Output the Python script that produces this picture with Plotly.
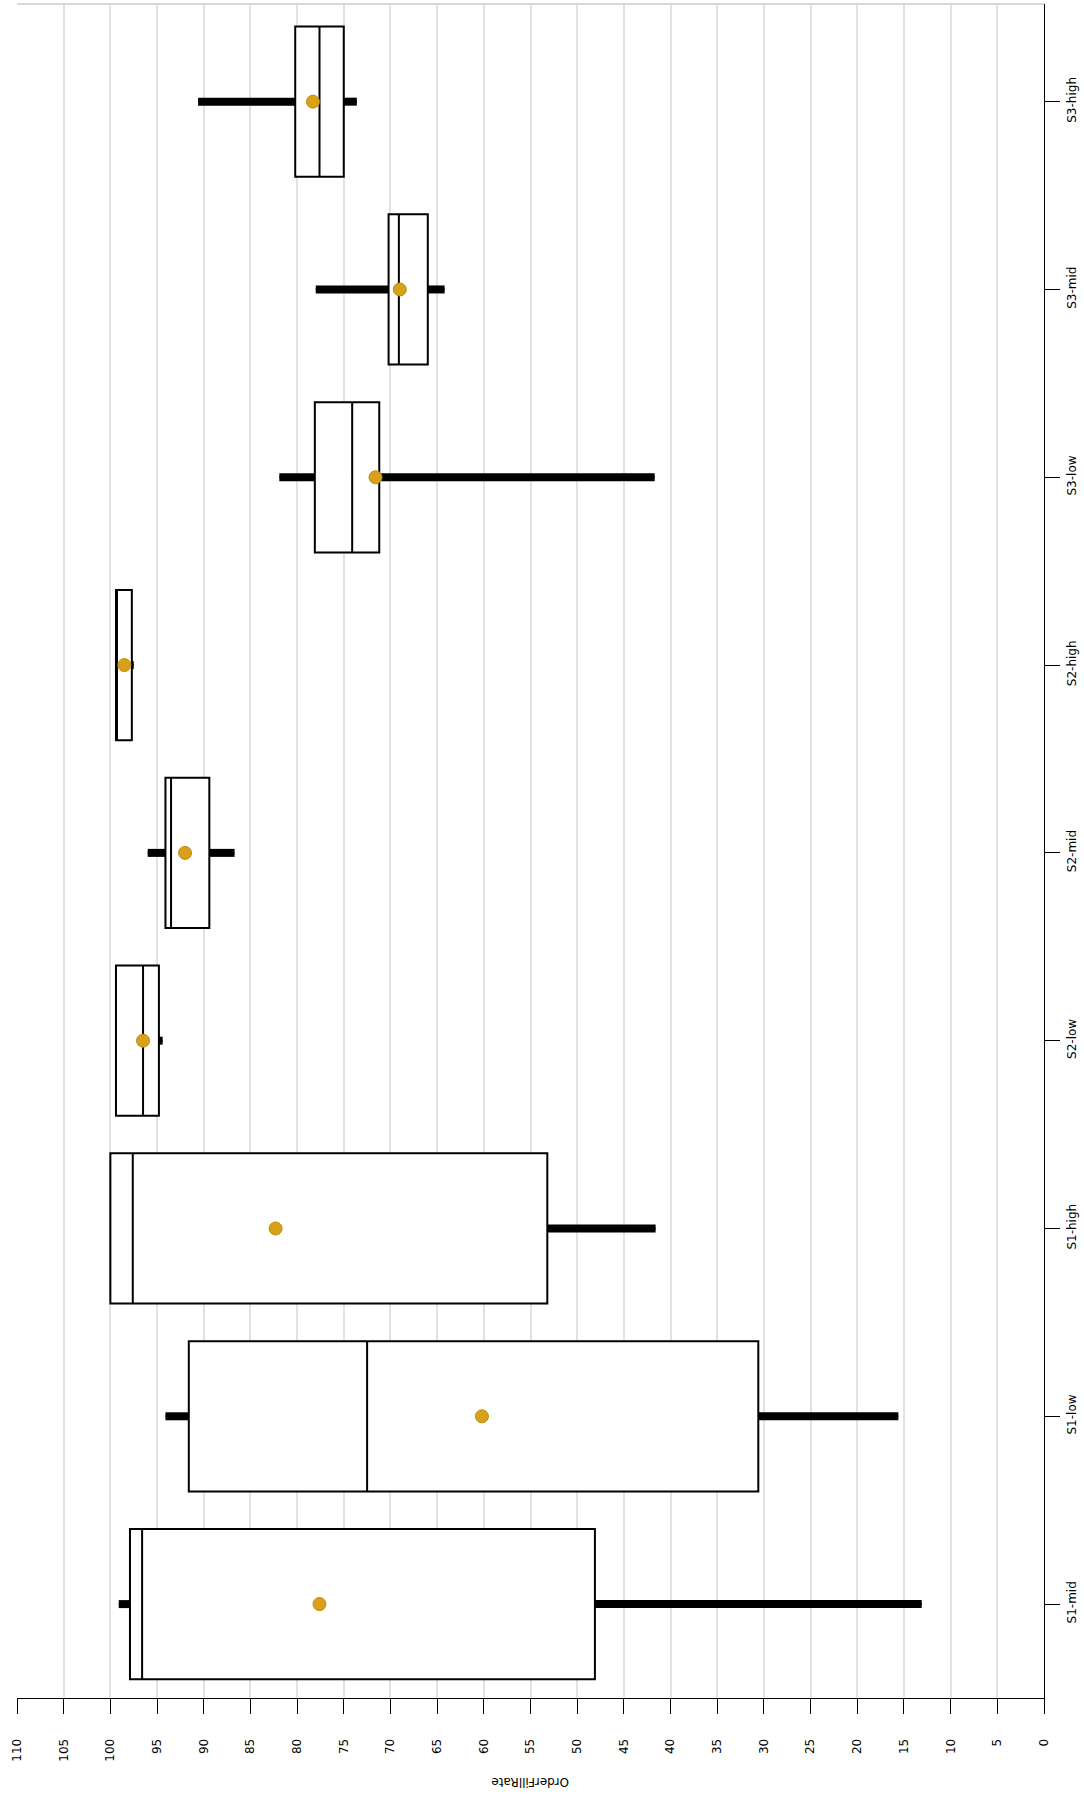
import plotly.graph_objects as go

categories = ["S1-mid", "S1-low", "S1-high", "S2-low", "S2-mid", "S2-high", "S3-low", "S3-mid", "S3-high"]
q1 =          [48.1, 30.6, 53.2, 94.8, 89.4, 97.7, 71.2, 66.0, 75.0]
median =      [96.6, 72.5, 97.6, 96.5, 93.5, 99.4, 74.1, 69.1, 77.6]
q3 =          [97.9, 91.6, 100.0, 99.4, 94.1, 99.4, 78.1, 70.2, 80.2]
lowerfence =  [13.1, 15.6, 41.6, 94.4, 86.7, 97.5, 41.7, 64.2, 73.6]
upperfence =  [99.1, 94.1, 100.0, 99.4, 96.0, 99.4, 81.9, 78.0, 90.6]
means =       [77.6, 60.2, 82.3, 96.5, 92.0, 98.5, 71.6, 69.0, 78.3]

x_ticks = list(range(0, 115, 5))

FONT = "DejaVu Sans"

fig = go.Figure()

fig.add_trace(go.Box(
    y=categories,
    q1=q1, median=median, q3=q3,
    lowerfence=lowerfence, upperfence=upperfence,
    orientation="h",
    width=0.8,
    fillcolor="white",
    line=dict(color="black", width=2),
    whiskerwidth=0,
    boxpoints=False,
    showlegend=False,
    hoverinfo="skip",
))

wx, wy = [], []
for c, lf, a, b, uf in zip(categories, lowerfence, q1, q3, upperfence):
    wx += [lf, a, None, b, uf, None]
    wy += [c, c, None, c, c, None]

fig.add_trace(go.Scatter(
    x=wx, y=wy, mode="lines",
    line=dict(color="black", width=8),
    showlegend=False, hoverinfo="skip",
))

fig.add_trace(go.Scatter(
    x=means, y=categories, mode="markers",
    marker=dict(color="#D9A01A", size=13, line=dict(color="#C08A10", width=1)),
    showlegend=False,
))

fig.update_layout(
    width=1084, height=1794,
    margin=dict(l=17, r=40, t=4, b=96),
    paper_bgcolor="white", plot_bgcolor="white",
    font=dict(family=FONT, size=12, color="black"),
    xaxis=dict(
        range=[110, 0],
        tickvals=x_ticks,
        ticktext=[str(v) for v in x_ticks],
        tickangle=-90,
        ticks="outside", ticklen=15, tickcolor="black", tickwidth=1,
        showline=True, linecolor="black", linewidth=1,
        showgrid=True, gridcolor="#e2e2e2", gridwidth=2,
        zeroline=False,
        automargin=False,
        ticklabelstandoff=20,
        tickfont=dict(family=FONT, size=12, color="black"),
    ),
    yaxis=dict(
        type="category",
        categoryorder="array", categoryarray=categories,
        range=[-0.5, 8.52],
        side="right",
        tickangle=-90,
        ticks="outside", ticklen=15, tickcolor="black", tickwidth=1,
        showline=True, linecolor="black", linewidth=1,
        showgrid=False, zeroline=False,
        automargin=False,
        ticklabelstandoff=2,
        tickfont=dict(family=FONT, size=12, color="black"),
    ),
    shapes=[dict(type="line", xref="paper", yref="paper", x0=0, x1=1, y0=1, y1=1,
                 line=dict(color="#d8d8d8", width=2))],
    annotations=[dict(text="OrderFillRate", xref="paper", yref="paper",
                      x=0.5, y=-0.05, xanchor="center", yanchor="middle",
                      textangle=180, showarrow=False,
                      font=dict(family=FONT, size=12, color="black"))],
)

fig.write_html("out.html", config={"displayModeBar": False},
               post_script="document.body.style.margin='0';")
